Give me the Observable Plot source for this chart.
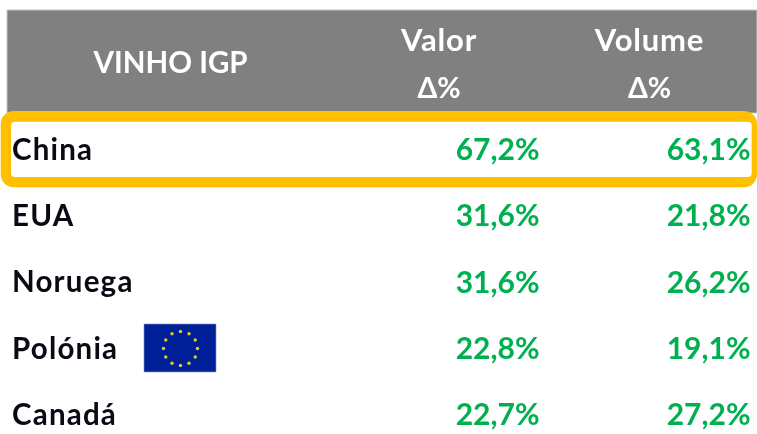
<!DOCTYPE html>
<html><head><meta charset="utf-8">
<script src="https://cdn.jsdelivr.net/npm/d3@7"></script>
<script src="https://cdn.jsdelivr.net/npm/@observablehq/plot@0.6"></script>
<style>html,body{margin:0;padding:0;background:#fff}svg{display:block}svg text{filter:blur(.35px)}.names text{letter-spacing:1.2px}.heads text{letter-spacing:.8px}</style>
</head><body><div id="c"></div>
<script>
const countries = ["China","EUA","Noruega","Polónia","Canadá"];
const valor = ["67,2%","31,6%","31,6%","22,8%","22,7%"];
const volume = ["63,1%","21,8%","26,2%","19,1%","27,2%"];
const headerTitle = "VINHO IGP";
const headerColumns = ["Valor","Volume"];
const headerDelta = "Δ%";

const rows = countries.map((country,i)=>({country,valor:valor[i],volume:volume[i],row:i+0.5}));
const font = "Lato, Carlito, sans-serif";
const fs = 30;
const base = {fontFamily:font,fontWeight:700,fontSize:fs,lineAnchor:"middle"};
const rowY = d=>d.row;
const stars = d3.range(12).map(i=>({a:i*Math.PI/6}));

const chart = Plot.plot({
  width:757,height:434,
  margin:0,
  style:{background:"#fff",overflow:"hidden"},
  x:{domain:[0,757],range:[0,757],axis:null},
  y:{domain:[-1.767,4.79],range:[0,434],axis:null},
  marks:[
    // header band
    Plot.rect([0],{x1:7,x2:757,y1:-1.616,y2:-0.06,fill:"#808080",stroke:"#c8c8c8",strokeWidth:1}),
    Plot.text([headerTitle],{...base,x:170,y:-0.815,text:d=>d,fill:"#fff",fontSize:29.5}),
    Plot.text(headerColumns,{...base,className:"heads",x:(d,i)=>[438.5,649][i],y:-1.16,text:d=>d,fill:"#fff",fontSize:31}),
    Plot.text(headerColumns,{...base,x:(d,i)=>[438.5,649][i],y:-0.43,text:()=>headerDelta,fill:"#fff",fontSize:28.5}),
    // highlight
    Plot.rect([0],{x1:0.7,x2:757,y1:-0.09,y2:1.063,fill:"#FFC000",rx:13}),
    Plot.rect([0],{x1:11,x2:751.7,y1:0.0717,y2:0.907,fill:"#fff",rx:4}),
    // table
    Plot.text(rows,{...base,className:"names",x:11.5,y:rowY,text:"country",textAnchor:"start",fill:"#0a0a14",fontSize:29.5}),
    Plot.text(rows,{...base,x:539,y:rowY,text:"valor",textAnchor:"end",fill:"#00B050"}),
    Plot.text(rows,{...base,x:750,y:rowY,text:"volume",textAnchor:"end",fill:"#00B050"}),
    // EU flag beside Polónia
    Plot.rect([0],{x1:144,x2:216,y1:3.128,y2:3.853,fill:"#00209A",stroke:"#8090c8",strokeWidth:0.6}),
    Plot.dot(stars,{x:d=>180+17*Math.sin(d.a),y:d=>3.49-17/66.19*Math.cos(d.a),symbol:"circle",r:1.7,fill:"#DCCB2E",stroke:"none"})
  ]
});
document.getElementById("c").append(chart);
</script></body></html>
